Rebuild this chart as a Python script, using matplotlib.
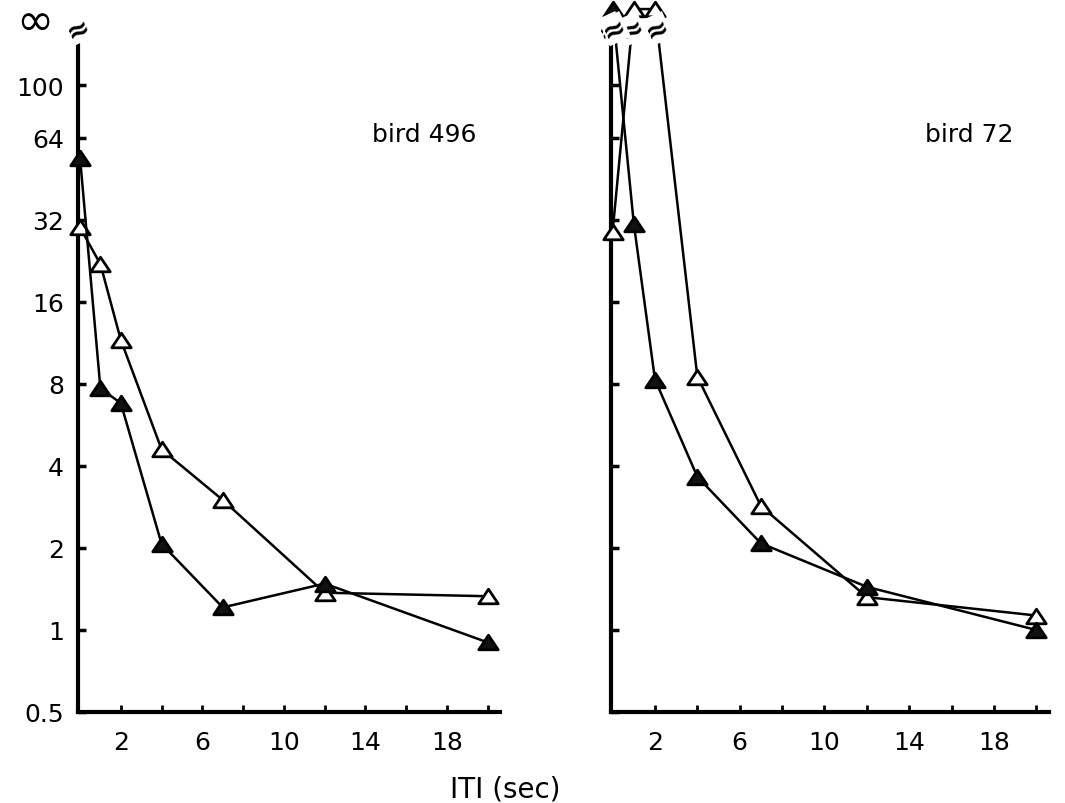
import numpy as np
import matplotlib.pyplot as plt
from matplotlib.path import Path
from matplotlib.ticker import FixedLocator, FixedFormatter, NullLocator

# ITI values (sec) and median responses per bird; np.inf = no responding
ITI = [0, 1, 2, 4, 7, 12, 20]
bird496_open = [30, 22, 11.6, 4.6, 3.0, 1.37, 1.33]
bird496_filled = [54, 7.7, 6.8, 2.07, 1.21, 1.48, 0.9]
bird72_open = [29, np.inf, np.inf, 8.5, 2.85, 1.32, 1.13]
bird72_filled = [np.inf, 31, 8.3, 3.65, 2.08, 1.44, 1.0]

Y_TICKS = [0.5, 1, 2, 4, 8, 16, 32, 64, 100]
Y_TICK_LABELS = ['0.5', '1', '2', '4', '8', '16', '32', '64', '100']
X_MAJOR = [2, 6, 10, 14, 18]
X_MINOR = [4, 8, 12, 16, 20]

INF_Y = 190      # height used for infinite values
AXIS_TOP = 142   # y axis stops below the break
BREAK_Y = 161

# slightly flattened triangle marker
TRI = Path([(-1, -0.75), (1, -0.75), (0, 0.75), (-1, -0.75)],
           [Path.MOVETO, Path.LINETO, Path.LINETO, Path.CLOSEPOLY])


def draw_break(ax, x, y, transform=None):
    if transform is None:
        transform = ax.transData
    ax.text(x, y, '≈', fontsize=20, fontweight='bold', rotation=25,
            ha='center', va='center', transform=transform, zorder=5,
            clip_on=False, bbox=dict(fc='white', ec='none', pad=0))


def draw_series(ax, x, y, filled):
    yy = [INF_Y if np.isinf(v) else v for v in y]
    ax.plot(x, yy, color='black', lw=1.8, marker=TRI, ms=14,
            mfc='#111111' if filled else 'white', mec='black', mew=2,
            clip_on=False, zorder=3)
    # break marks where a segment runs up to infinity
    for i in range(len(y) - 1):
        a, b = y[i], y[i + 1]
        if np.isinf(a) != np.isinf(b):
            if np.isinf(a):
                t = (np.log(INF_Y) - np.log(BREAK_Y)) / (np.log(INF_Y) - np.log(b))
            else:
                t = (np.log(BREAK_Y) - np.log(a)) / (np.log(INF_Y) - np.log(a))
            xb = x[i] + t * (x[i + 1] - x[i])
            draw_break(ax, xb, BREAK_Y)


def style_axis(ax, labels=True):
    ax.set_yscale('log', base=2)
    ax.set_ylim(0.5, 200)
    ax.set_xlim(-0.1, 20.6)
    ax.yaxis.set_major_locator(FixedLocator(Y_TICKS))
    ax.yaxis.set_major_formatter(FixedFormatter(Y_TICK_LABELS if labels else [''] * len(Y_TICKS)))
    ax.yaxis.set_minor_locator(NullLocator())
    ax.xaxis.set_major_locator(FixedLocator(X_MAJOR))
    ax.xaxis.set_minor_locator(FixedLocator(X_MINOR))
    ax.tick_params(axis='y', which='both', direction='in', length=6, width=2.5,
                   pad=10, labelsize=18)
    ax.tick_params(axis='x', which='both', direction='in', length=5, width=2,
                   pad=13, labelsize=18)
    for side in ('top', 'right'):
        ax.spines[side].set_visible(False)
    for side in ('left', 'bottom'):
        ax.spines[side].set_linewidth(3)
    ax.spines['left'].set_bounds(0.5, AXIS_TOP)
    draw_break(ax, 0, BREAK_Y, transform=ax.get_yaxis_transform())


fig = plt.figure(figsize=(10.65, 8.04), dpi=100)
ax1 = fig.add_axes([78 / 1065, 91 / 804, 422 / 1065, 709 / 804])
ax2 = fig.add_axes([610.5 / 1065, 91 / 804, 438.5 / 1065, 709 / 804])

style_axis(ax1, labels=True)
style_axis(ax2, labels=False)

draw_series(ax1, ITI, bird496_open, filled=False)
draw_series(ax1, ITI, bird496_filled, filled=True)
draw_series(ax2, ITI, bird72_open, filled=False)
draw_series(ax2, ITI, bird72_filled, filled=True)

ax1.annotate('∞', xy=(0, INF_Y), xycoords=ax1.get_yaxis_transform(),
             xytext=(-43, -12), textcoords='offset pixels',
             ha='center', va='center', fontsize=32)

ax1.text(0.697, 0.815, 'bird 496', transform=ax1.transAxes,
         ha='left', va='center', fontsize=18)
ax2.text(0.717, 0.815, 'bird 72', transform=ax2.transAxes,
         ha='left', va='center', fontsize=18)

fig.text(505 / 1065, 1 - 790 / 804, 'ITI (sec)', ha='center', va='center',
         fontsize=20)

fig.savefig('out.png', dpi=100)
